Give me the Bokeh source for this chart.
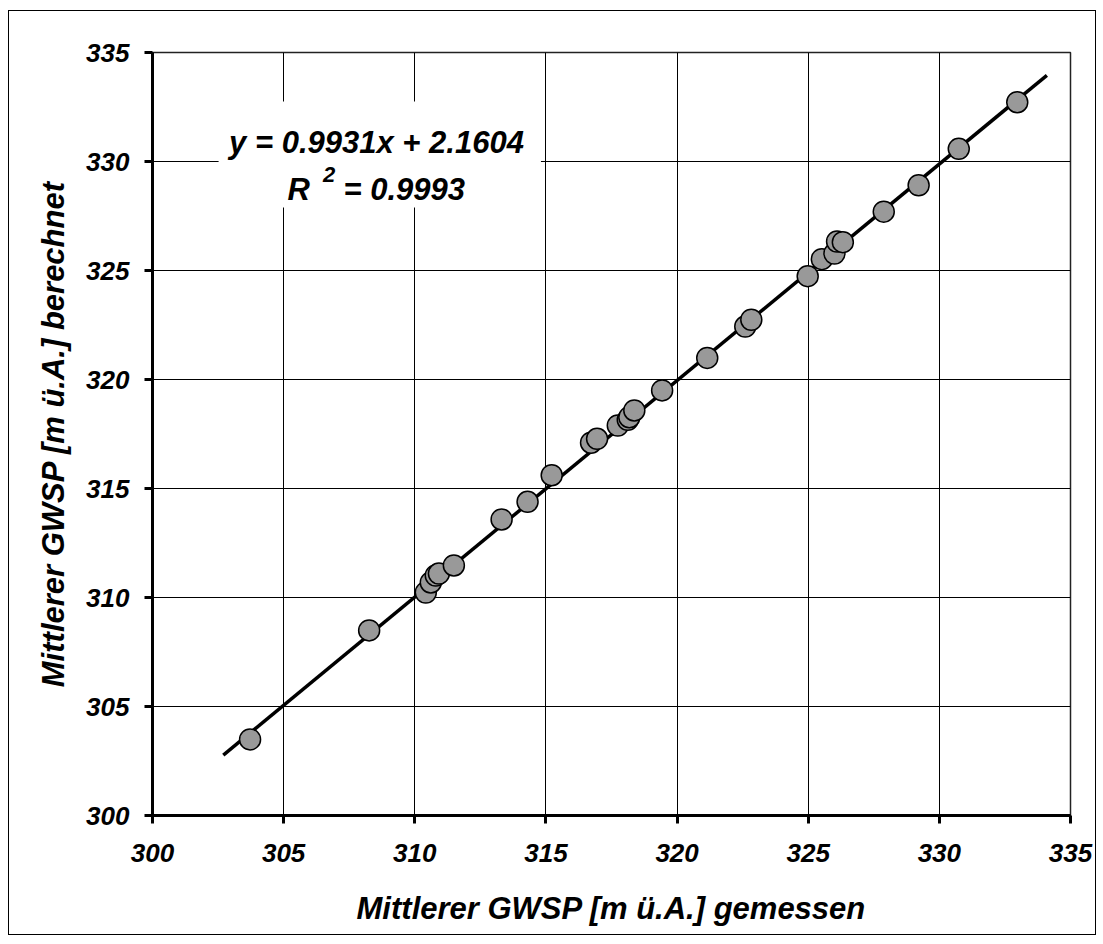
from bokeh.plotting import figure
from bokeh.models import Label, BoxAnnotation, FixedTicker, ColumnDataSource
from bokeh.embed import file_html
from bokeh.resources import INLINE

# --- data ---
x_measured = [303.72, 308.26, 310.42, 310.61, 310.80, 310.92, 311.49, 313.31, 314.30,
              315.22, 316.72, 316.95, 317.74, 318.12, 318.18, 318.37, 319.43, 321.15,
              322.60, 322.83, 324.98, 325.52, 326.00, 326.10, 326.32, 327.88, 329.21,
              330.74, 332.97]
y_computed = [303.49, 308.49, 310.23, 310.69, 311.01, 311.10, 311.47, 313.58, 314.39,
              315.61, 317.10, 317.28, 317.89, 318.15, 318.27, 318.58, 319.50, 320.99,
              322.43, 322.74, 324.74, 325.52, 325.78, 326.33, 326.30, 327.70, 328.91,
              330.58, 332.72]
slope = 0.9931
intercept = 2.1604
r_squared = 0.9993
trend_x = [302.7, 334.1]
x_ticks = [300, 305, 310, 315, 320, 325, 330, 335]
y_ticks = [300, 305, 310, 315, 320, 325, 330, 335]
x_title = "Mittlerer GWSP [m ü.A.] gemessen"
y_title = "Mittlerer GWSP [m ü.A.] berechnet"

FONT = "Liberation Sans"

p = figure(width=1088, height=925, x_range=(300, 335), y_range=(300, 335),
           output_backend="svg", toolbar_location=None,
           min_border_left=143, min_border_right=27, min_border_top=41, min_border_bottom=121)
p.styles = {"border": "1px solid black", "margin-left": "8px", "margin-top": "10px"}
p.background_fill_color = "white"
p.border_fill_color = "white"
p.outline_line_color = "#222222"
p.outline_line_width = 1.5

# grid
for g in (p.xgrid, p.ygrid):
    g.grid_line_color = "black"
    g.grid_line_width = 1
p.xgrid.ticker = FixedTicker(ticks=x_ticks)
p.ygrid.ticker = FixedTicker(ticks=y_ticks)

# axes
for ax in (p.xaxis, p.yaxis):
    ax.axis_line_width = 3
    ax.axis_line_color = "black"
    ax.major_tick_line_width = 3
    ax.major_tick_line_color = "black"
    ax.major_tick_out = 8
    ax.major_tick_in = 0
    ax.minor_tick_line_color = None
    ax.major_label_text_font = FONT
    ax.major_label_text_font_style = "bold italic"
    ax.major_label_text_font_size = "26px"
    ax.major_label_text_color = "black"
    ax.axis_label_text_font = FONT
    ax.axis_label_text_font_style = "bold italic"
    ax.axis_label_text_font_size = "31px"
    ax.axis_label_text_color = "black"
p.xaxis.ticker = FixedTicker(ticks=x_ticks)
p.yaxis.ticker = FixedTicker(ticks=y_ticks)
p.xaxis.axis_label = x_title
p.yaxis.axis_label = y_title
p.xaxis.major_label_standoff = 20
p.yaxis.major_label_standoff = 15
p.xaxis.axis_label_standoff = 26
p.yaxis.axis_label_standoff = 12

# white box behind the equation
box = BoxAnnotation(left=302.52, right=314.81, top=332.75, bottom=327.89,
                    fill_color="white", fill_alpha=1.0, line_color=None)
p.add_layout(box)

# trendline
trend_y = [slope * v + intercept for v in trend_x]
p.line(trend_x, trend_y, line_color="black", line_width=3.5)

# points
src = ColumnDataSource(dict(x=x_measured, y=y_computed))
p.scatter("x", "y", source=src, size=21, fill_color="#999999", line_color="black",
          line_width=1.5)

lab = dict(text_font=FONT, text_font_style="bold italic", text_color="black",
           text_baseline="alphabetic")
p.add_layout(Label(x=308.54, y=330.87, text=f"y = {slope:.4f}x + {intercept:.4f}",
                   text_align="center", text_font_size="31px", **lab))
p.add_layout(Label(x=305.15, y=328.72, text="R", text_align="left",
                   text_font_size="31px", **lab))
p.add_layout(Label(x=306.50, y=329.42, text="2", text_align="left",
                   text_font_size="22px", **lab))
p.add_layout(Label(x=307.28, y=328.72, text=f"= {r_squared:.4f}", text_align="left",
                   text_font_size="31px", **lab))

open("out.html", "w").write(file_html(p, INLINE))
